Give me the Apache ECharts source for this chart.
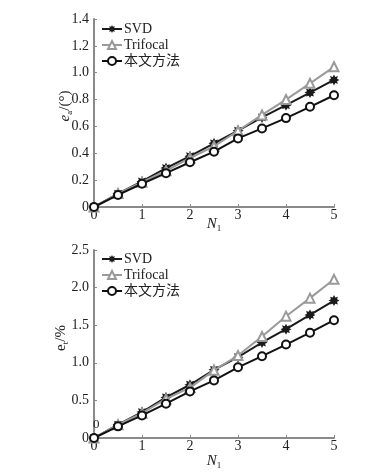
<!DOCTYPE html>
<html><head><meta charset="utf-8">
<script src="https://cdn.jsdelivr.net/npm/echarts@6/dist/echarts.min.js"></script>
<style>html,body{margin:0;padding:0;background:#fff;}#c{width:371px;height:475px;}</style>
</head><body><div id="c"></div>
<script>
const xValues = [0, 0.5, 1, 1.5, 2, 2.5, 3, 3.5, 4, 4.5, 5];
const seriesNames = ['SVD', 'Trifocal', '本文方法'];
// top chart: e_a / (°)
const eaSVD      = [0, 0.099, 0.19, 0.29, 0.378, 0.474, 0.568, 0.667, 0.758, 0.852, 0.946];
const eaTrifocal = [0, 0.10, 0.185, 0.27, 0.365, 0.452, 0.568, 0.686, 0.80, 0.921, 1.044];
const eaMethod   = [0, 0.09, 0.173, 0.252, 0.333, 0.412, 0.511, 0.585, 0.662, 0.746, 0.832];
// bottom chart: e_t / %
const etSVD      = [0, 0.177, 0.345, 0.54, 0.708, 0.907, 1.075, 1.27, 1.447, 1.637, 1.827];
const etTrifocal = [0, 0.177, 0.33, 0.52, 0.67, 0.90, 1.097, 1.35, 1.62, 1.86, 2.11];
const etMethod   = [0, 0.155, 0.30, 0.456, 0.62, 0.766, 0.94, 1.088, 1.243, 1.40, 1.566];
const xTicks = [0, 1, 2, 3, 4, 5];
const eaTicks = [0, 0.2, 0.4, 0.6, 0.8, 1.0, 1.2, 1.4];
const etTicks = [0, 0.5, 1.0, 1.5, 2.0, 2.5];

function starPath() {
  const pts = [];
  for (let i = 0; i < 16; i++) {
    const r = i % 2 ? 6 : 10;
    const a = -Math.PI / 2 + i * Math.PI / 8;
    pts.push((10 + r * Math.cos(a)).toFixed(2) + ' ' + (10 + r * Math.sin(a)).toFixed(2));
  }
  return 'path://M' + pts.join(' L') + ' Z';
}
const STAR = starPath();
const SERIF = '"Liberation Serif", "DejaVu Serif", serif';
const pair = (ys) => xValues.map((x, i) => [x, ys[i]]);

const styles = [
  { symbol: STAR, symbolSize: 11, color: '#1a1a1a', line: '#1a1a1a' },
  { symbol: 'emptyTriangle', symbolSize: 9, color: '#999999', line: '#9a9a9a' },
  { symbol: 'emptyCircle', symbolSize: 8, color: '#111111', line: '#111111' }
];

function mkSeries(data, gi) {
  return data.map((d, k) => ({
    name: seriesNames[k], type: 'line', xAxisIndex: gi, yAxisIndex: gi,
    data: pair(d), symbol: styles[k].symbol, symbolSize: styles[k].symbolSize,
    showAllSymbol: true,
    lineStyle: { color: styles[k].line, width: 2 },
    itemStyle: { color: styles[k].color, borderWidth: 2 },
    z: 2 + k, animation: false
  }));
}

function xAxis(gi, gap) {
  return {
    type: 'value', gridIndex: gi, min: 0, max: 5, interval: 1,
    name: '{n|N}{s|1}', nameLocation: 'middle', nameGap: gap, nameMoveOverlap: false,
    nameTextStyle: { rich: {
      n: { fontFamily: SERIF, fontStyle: 'italic', fontSize: 15, color: '#222' },
      s: { fontFamily: SERIF, fontSize: 9, color: '#222', padding: [8, 0, 0, 0] } } },
    axisLine: { lineStyle: { color: '#8a8a8a', width: 2 } },
    axisTick: { inside: true, length: 3, lineStyle: { color: '#888' }, customValues: xTicks },
    axisLabel: { fontFamily: SERIF, fontSize: 14, color: '#222', margin: 1, customValues: xTicks },
    splitLine: { show: false }
  };
}
function yAxis(gi, max, interval, ticks, nameRich, gap, pad) {
  return {
    type: 'value', gridIndex: gi, min: 0, max: max, interval: interval,
    name: nameRich, nameLocation: 'middle', nameRotate: 90, nameGap: gap, nameMoveOverlap: false,
    nameTextStyle: { padding: [0, 0, 0, pad], rich: {
      e: { fontFamily: SERIF, fontStyle: 'italic', fontSize: 15, color: '#222' },
      r: { fontFamily: SERIF, fontSize: 15, color: '#222' },
      s: { fontFamily: SERIF, fontSize: 9, color: '#222', padding: [8, 0, 0, 0] } } },
    axisLine: { show: true, lineStyle: { color: '#8a8a8a', width: 2 } },
    axisTick: { show: true, inside: true, length: 3, lineStyle: { color: '#888' }, customValues: ticks },
    axisLabel: { fontFamily: SERIF, fontSize: 14, color: '#222', margin: 5, customValues: ticks,
      formatter: v => v === 0 ? '0' : v.toFixed(1) },
    splitLine: { show: false }
  };
}

function legend(top) {
  return {
    orient: 'vertical', left: 96, top: top, itemWidth: 20, itemHeight: 10, itemGap: 2,
    data: seriesNames,
    textStyle: { fontFamily: SERIF + ', "Noto Sans CJK SC"', fontSize: 14, color: '#222', padding: [0, 0, 0, -3] },
    selectedMode: false
  };
}

const chart = echarts.init(document.getElementById('c'), null, { renderer: 'canvas' });
chart.setOption({
  backgroundColor: '#fff',
  animation: false,
  legend: [legend(17), legend(247)],
  grid: [
    { left: 94, top: 19, width: 240, height: 188 },
    { left: 94, top: 250, width: 240, height: 188 }
  ],
  xAxis: [xAxis(0, 9), xAxis(1, 15)],
  yAxis: [
    yAxis(0, 1.4, 0.2, eaTicks, '{e|e}{s|a}{r|/(°)}', 20, 14),
    yAxis(1, 2.5, 0.5, etTicks, '{r|e}{s|t}{r|/%}', 24, 12)
  ],
  graphic: [{ type: 'text', left: 93, top: 418, z: 100,
    style: { text: '0', font: '13px ' + SERIF, fill: '#222' } }],
  series: mkSeries([eaSVD, eaTrifocal, eaMethod], 0).concat(mkSeries([etSVD, etTrifocal, etMethod], 1))
});
</script></body></html>
